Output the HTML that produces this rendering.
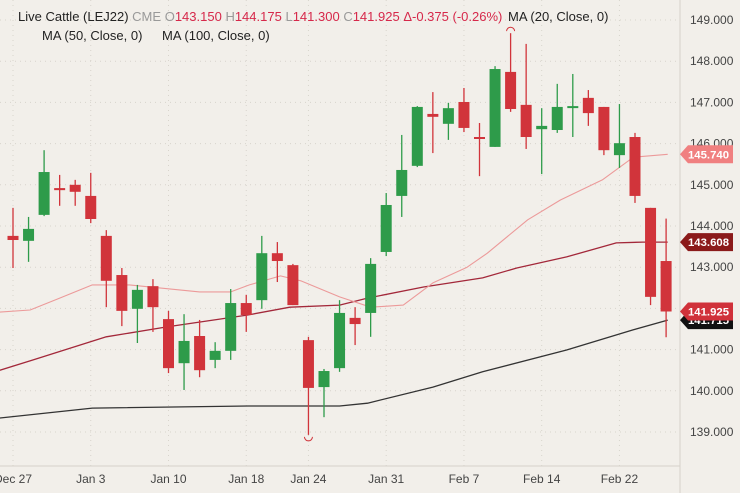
<!DOCTYPE html>
<html><head><meta charset="utf-8"><style>
body{margin:0;background:#f2efea;font-family:"Liberation Sans",sans-serif;}
#wrap{position:relative;width:740px;height:493px;overflow:hidden;background:#f2efea;}
svg text{font-family:"Liberation Sans",sans-serif;}
</style></head><body>
<div id="wrap">
<svg id="chart" width="740" height="493"></svg>
</div>
<script>
const opens  =[143.76,143.64,144.27,144.92,145.00,144.73,143.76,142.81,141.99,142.54,141.74,140.67,141.33,140.75,140.97,142.13,142.20,143.34,143.05,141.23,140.09,140.55,141.77,141.89,143.37,144.73,145.46,146.72,146.48,147.01,146.16,145.92,147.74,146.94,146.35,146.33,146.89,147.11,146.89,145.72,146.16,144.44,143.15];
const highs  =[144.44,144.22,145.84,145.24,145.12,145.29,143.90,142.98,142.57,142.71,141.94,141.86,141.72,141.18,142.47,142.33,143.76,143.61,143.08,141.31,140.53,142.20,142.03,143.22,144.80,146.21,146.91,147.25,146.99,147.35,146.50,147.88,148.68,148.42,146.86,147.45,147.69,147.30,146.89,146.96,146.26,144.44,144.18];
const lows   =[142.98,143.13,144.24,144.49,144.49,144.07,142.03,141.57,141.16,141.43,140.43,140.02,140.33,140.55,140.75,141.43,141.99,142.64,142.08,138.93,139.36,140.46,141.11,141.31,143.27,144.22,145.43,145.77,146.09,146.28,145.21,145.92,146.77,145.87,145.26,146.26,146.16,146.43,145.72,145.41,144.56,142.08,141.30];
const closes =[143.66,143.93,145.31,144.87,144.83,144.17,142.67,141.94,142.45,142.03,140.55,141.21,140.50,140.97,142.13,141.84,143.34,143.15,142.08,140.07,140.48,141.89,141.62,143.08,144.51,145.36,146.89,146.65,146.86,146.38,146.14,147.81,146.84,146.16,146.43,146.89,146.91,146.74,145.84,146.01,144.73,142.28,141.925];
const ma20Idx=[-0.84,1.1,3.0,5.1,7.5,12.0,14.0,15.2,17.2,18.5,21.0,23.0,25.1,27.0,29.2,30.5,33.1,35.2,37.9,39.9,42.1];
const ma20Val=[141.91,141.96,142.25,142.57,142.57,142.40,142.40,142.57,142.79,142.67,142.28,142.03,142.08,142.62,143.00,143.34,144.15,144.63,145.12,145.67,145.74];
const ma50Idx=[-0.84,1.3,6.0,9.9,15.1,17.8,21.0,22.8,26.4,30.2,32.4,35.6,38.8,40.5,42.1];
const ma50Val=[140.50,140.75,141.31,141.55,141.84,142.03,142.08,142.25,142.52,142.74,142.98,143.25,143.59,143.61,143.61];
const ma100Idx=[-0.84,5.1,15.1,21.0,22.8,27.0,30.2,35.6,39.9,42.1];
const ma100Val=[139.34,139.58,139.63,139.63,139.70,140.09,140.46,140.99,141.48,141.715];
const yTicks=[149,148,147,146,145,144,143,142,141,140,139];
const dateLabels=["Dec 27","Jan 3","Jan 10","Jan 18","Jan 24","Jan 31","Feb 7","Feb 14","Feb 22"];
const dateIdx=[0,5,10,15,19,24,29,34,39];
const tagVals=[145.74,143.608,141.715,141.925];
const tagColors=["#f08080","#8b1a1a","#111111","#d0313a"];

const NS="http://www.w3.org/2000/svg";
const svg=document.getElementById('chart');
const y=p=>20+(149-p)*41.2;
const x=i=>13+i*15.55;
function mk(t,a,parent){const e=document.createElementNS(NS,t);for(const k in a)e.setAttribute(k,a[k]);(parent||svg).appendChild(e);return e;}

yTicks.forEach(v=>{
  const l=mk('line',{x1:0,x2:680,y1:y(v),y2:y(v),stroke:'#d8d4cc','stroke-dasharray':'1 4'});
  
  
});
dateIdx.forEach(i=>{
  const l=mk('line',{x1:x(i),x2:x(i),y1:0,y2:466,stroke:'#d8d4cc','stroke-dasharray':'1 4'});
  
  
});
const ax=mk('line',{x1:680,x2:680,y1:0,y2:493,stroke:'#d6d2ca'});


const bx=mk('line',{x1:0,x2:680,y1:466,y2:466,stroke:'#d6d2ca'});



function maPath(idx,val,color,w,name){
  const d=idx.map((i,k)=>(k?'L':'M')+x(i).toFixed(1)+' '+y(val[k]).toFixed(1)).join(' ');
  const p=mk('path',{d:d,fill:'none',stroke:color,'stroke-width':w,'stroke-linejoin':'round'});
  
  
}
maPath(ma100Idx,ma100Val,'#333','1.3','ma-100-line');
maPath(ma50Idx,ma50Val,'#a3283a','1.3','ma-50-line');
maPath(ma20Idx,ma20Val,'#ec9a9a','1.1','ma-20-line');

opens.forEach((o,i)=>{
  const c=closes[i];const up=c>=o;const col=up?'#2e9b4a':'#d1343b';
  const g=mk('g',{});
  
  
  mk('line',{x1:x(i),x2:x(i),y1:y(highs[i]),y2:y(lows[i]),stroke:col,'stroke-width':1.3},g);
  const top=y(Math.max(o,c)),bot=y(Math.min(o,c));
  mk('rect',{x:x(i)-5.5,y:top,width:11,height:Math.max(2,bot-top),fill:col},g);
});
let hi=0,lo=0;highs.forEach((h,i)=>{if(h>highs[hi])hi=i;});lows.forEach((l,i)=>{if(l<lows[lo])lo=i;});
const hm=mk('path',{d:`M${x(hi)-4} ${y(highs[hi])-2} a4 4 0 0 1 8 0`,fill:'none',stroke:'#d1343b'});


const lm=mk('path',{d:`M${x(lo)-4} ${y(lows[lo])+2} a4 4 0 0 0 8 0`,fill:'none',stroke:'#d1343b'});



yTicks.forEach(v=>{
  const t=mk('text',{x:690,y:y(v)+4,'font-size':12,fill:'#444'});
  t.textContent=v.toFixed(3);
  
  
});
dateIdx.forEach((i,k)=>{
  const t=mk('text',{x:x(i),y:483,'font-size':12,fill:'#444','text-anchor':'middle'});
  t.textContent=dateLabels[k];
  
  
});
tagVals.forEach((v,k)=>{
  const yy=y(v);
  const g=mk('g',{});
  
  
  mk('path',{d:`M680 ${yy} L688 ${yy-9} L733 ${yy-9} L733 ${yy+9} L688 ${yy+9} Z`,fill:tagColors[k]},g);
  const t=mk('text',{x:688,y:yy+4,'font-size':11,'font-weight':'bold',fill:'#fff',textLength:41,lengthAdjust:'spacingAndGlyphs'},g);
  t.textContent=v.toFixed(3);
});
</script>
<div style="position:absolute;left:18px;top:9px;font-size:13px;color:#222;white-space:nowrap;">Live Cattle (LEJ22) <span style="color:#999">CME</span> <span style="color:#999">O</span><span style="color:#d6284a">143.150</span> <span style="color:#999">H</span><span style="color:#d6284a">144.175</span> <span style="color:#999">L</span><span style="color:#d6284a">141.300</span> <span style="color:#999">C</span><span style="color:#d6284a">141.925</span> <span style="color:#d6284a">Δ-0.375 (-0.26%)</span></div>
<div style="position:absolute;left:508px;top:9px;font-size:13px;color:#222;">MA (20, Close, 0)</div>
<div style="position:absolute;left:42px;top:28px;font-size:13px;color:#222;">MA (50, Close, 0)</div>
<div style="position:absolute;left:162px;top:28px;font-size:13px;color:#222;">MA (100, Close, 0)</div>
</body></html>
